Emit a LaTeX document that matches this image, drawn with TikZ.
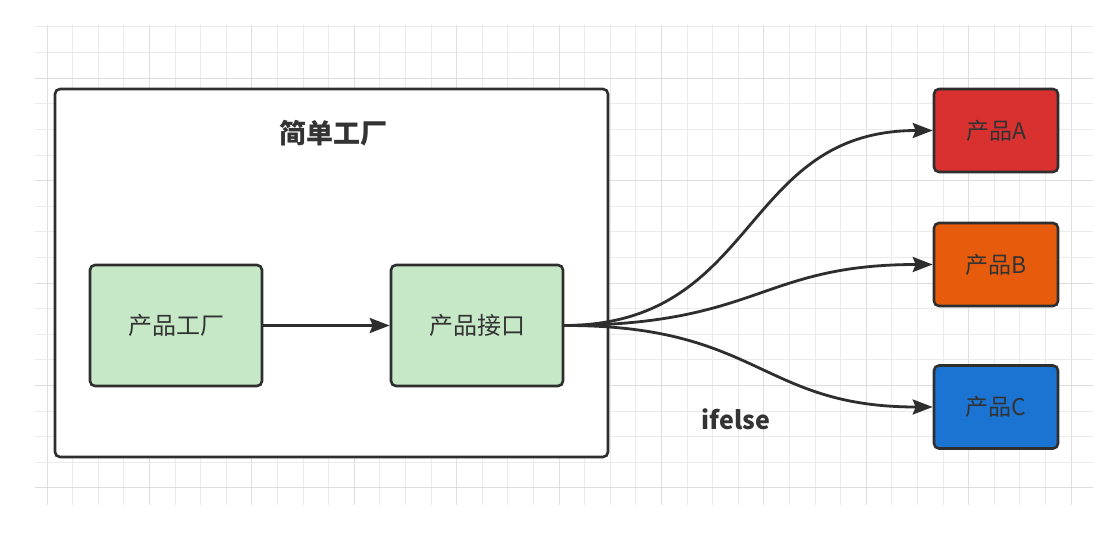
\documentclass[tikz,border=0pt]{standalone}
\usepackage{fontspec}
\setmainfont{Noto Sans CJK SC}
\usetikzlibrary{arrows.meta}
\definecolor{gridminor}{HTML}{EBEBEB}
\definecolor{gridmajor}{HTML}{DEDEDE}
\definecolor{edge}{HTML}{2E2E2E}
\definecolor{txt}{HTML}{333333}
\definecolor{green}{HTML}{C6E8C6}
\definecolor{pred}{HTML}{D93030}
\definecolor{porange}{HTML}{E65C0C}
\definecolor{pblue}{HTML}{1C74D2}
\tikzset{
  box/.style={draw=edge, line width=2.6pt, rounded corners=5pt, inner sep=0pt},
  greenbox/.style={box, fill=green, minimum width=172pt, minimum height=121pt, font=\fontsize{24}{28}\selectfont, text=txt},
  prodbox/.style={box, minimum width=124pt, minimum height=83pt, font=\fontsize{23}{26}\selectfont, text=txt},
  conn/.style={draw=edge, line width=2.8pt, -{Stealth[length=20pt,width=15pt,inset=3pt]}}
}
\begin{document}
\begin{tikzpicture}[x=1pt,y=-1pt]
\useasboundingbox (0,0) rectangle (1093,543);
\fill[white] (0,0) rectangle (1093,543);
% grid
\foreach \i in {0,...,41} {
  \pgfmathsetmacro{\xx}{47+25.6*\i}
  \pgfmathtruncatemacro{\m}{mod(\i,4)}
  \ifnum\m=0 \draw[gridmajor, line width=1pt] (\xx,25) -- (\xx,505);
  \else \draw[gridminor, line width=1pt] (\xx,25) -- (\xx,505); \fi
}
\foreach \j in {0,...,18} {
  \pgfmathsetmacro{\yy}{27+25.6*\j}
  \pgfmathtruncatemacro{\m}{mod(\j,4)}
  \ifnum\m=2 \draw[gridmajor, line width=1pt] (35,\yy) -- (1093,\yy);
  \else \draw[gridminor, line width=1pt] (35,\yy) -- (1093,\yy); \fi
}
% outer box
\node[box, fill=white, minimum width=553pt, minimum height=368pt] (outer) at (331.5,273) {};
\node[font=\bfseries\fontsize{27}{30}\selectfont, text=txt] (title) at (333,133) {简单工厂};
\node[greenbox] (factory) at (176,325.5) {产品工厂};
\node[greenbox] (iface) at (477,325.5) {产品接口};
\node[prodbox, fill=pred] (pa) at (996,130.5) {产品A};
\node[prodbox, fill=porange] (pb) at (996,264.5) {产品B};
\node[prodbox, fill=pblue] (pc) at (996,407) {产品C};
\node[font=\bfseries\fontsize{25}{28}\selectfont, text=txt] (ifelse) at (736,419) {ifelse};
\draw[conn] (factory.east) -- (iface.west);
\draw[conn] (iface.east) .. controls (760,325) and (740,130.5) .. (pa.west);
\draw[conn] (iface.east) .. controls (760,325) and (760,264.5) .. (pb.west);
\draw[conn] (iface.east) .. controls (760,325) and (760,407) .. (pc.west);
\end{tikzpicture}
\end{document}
